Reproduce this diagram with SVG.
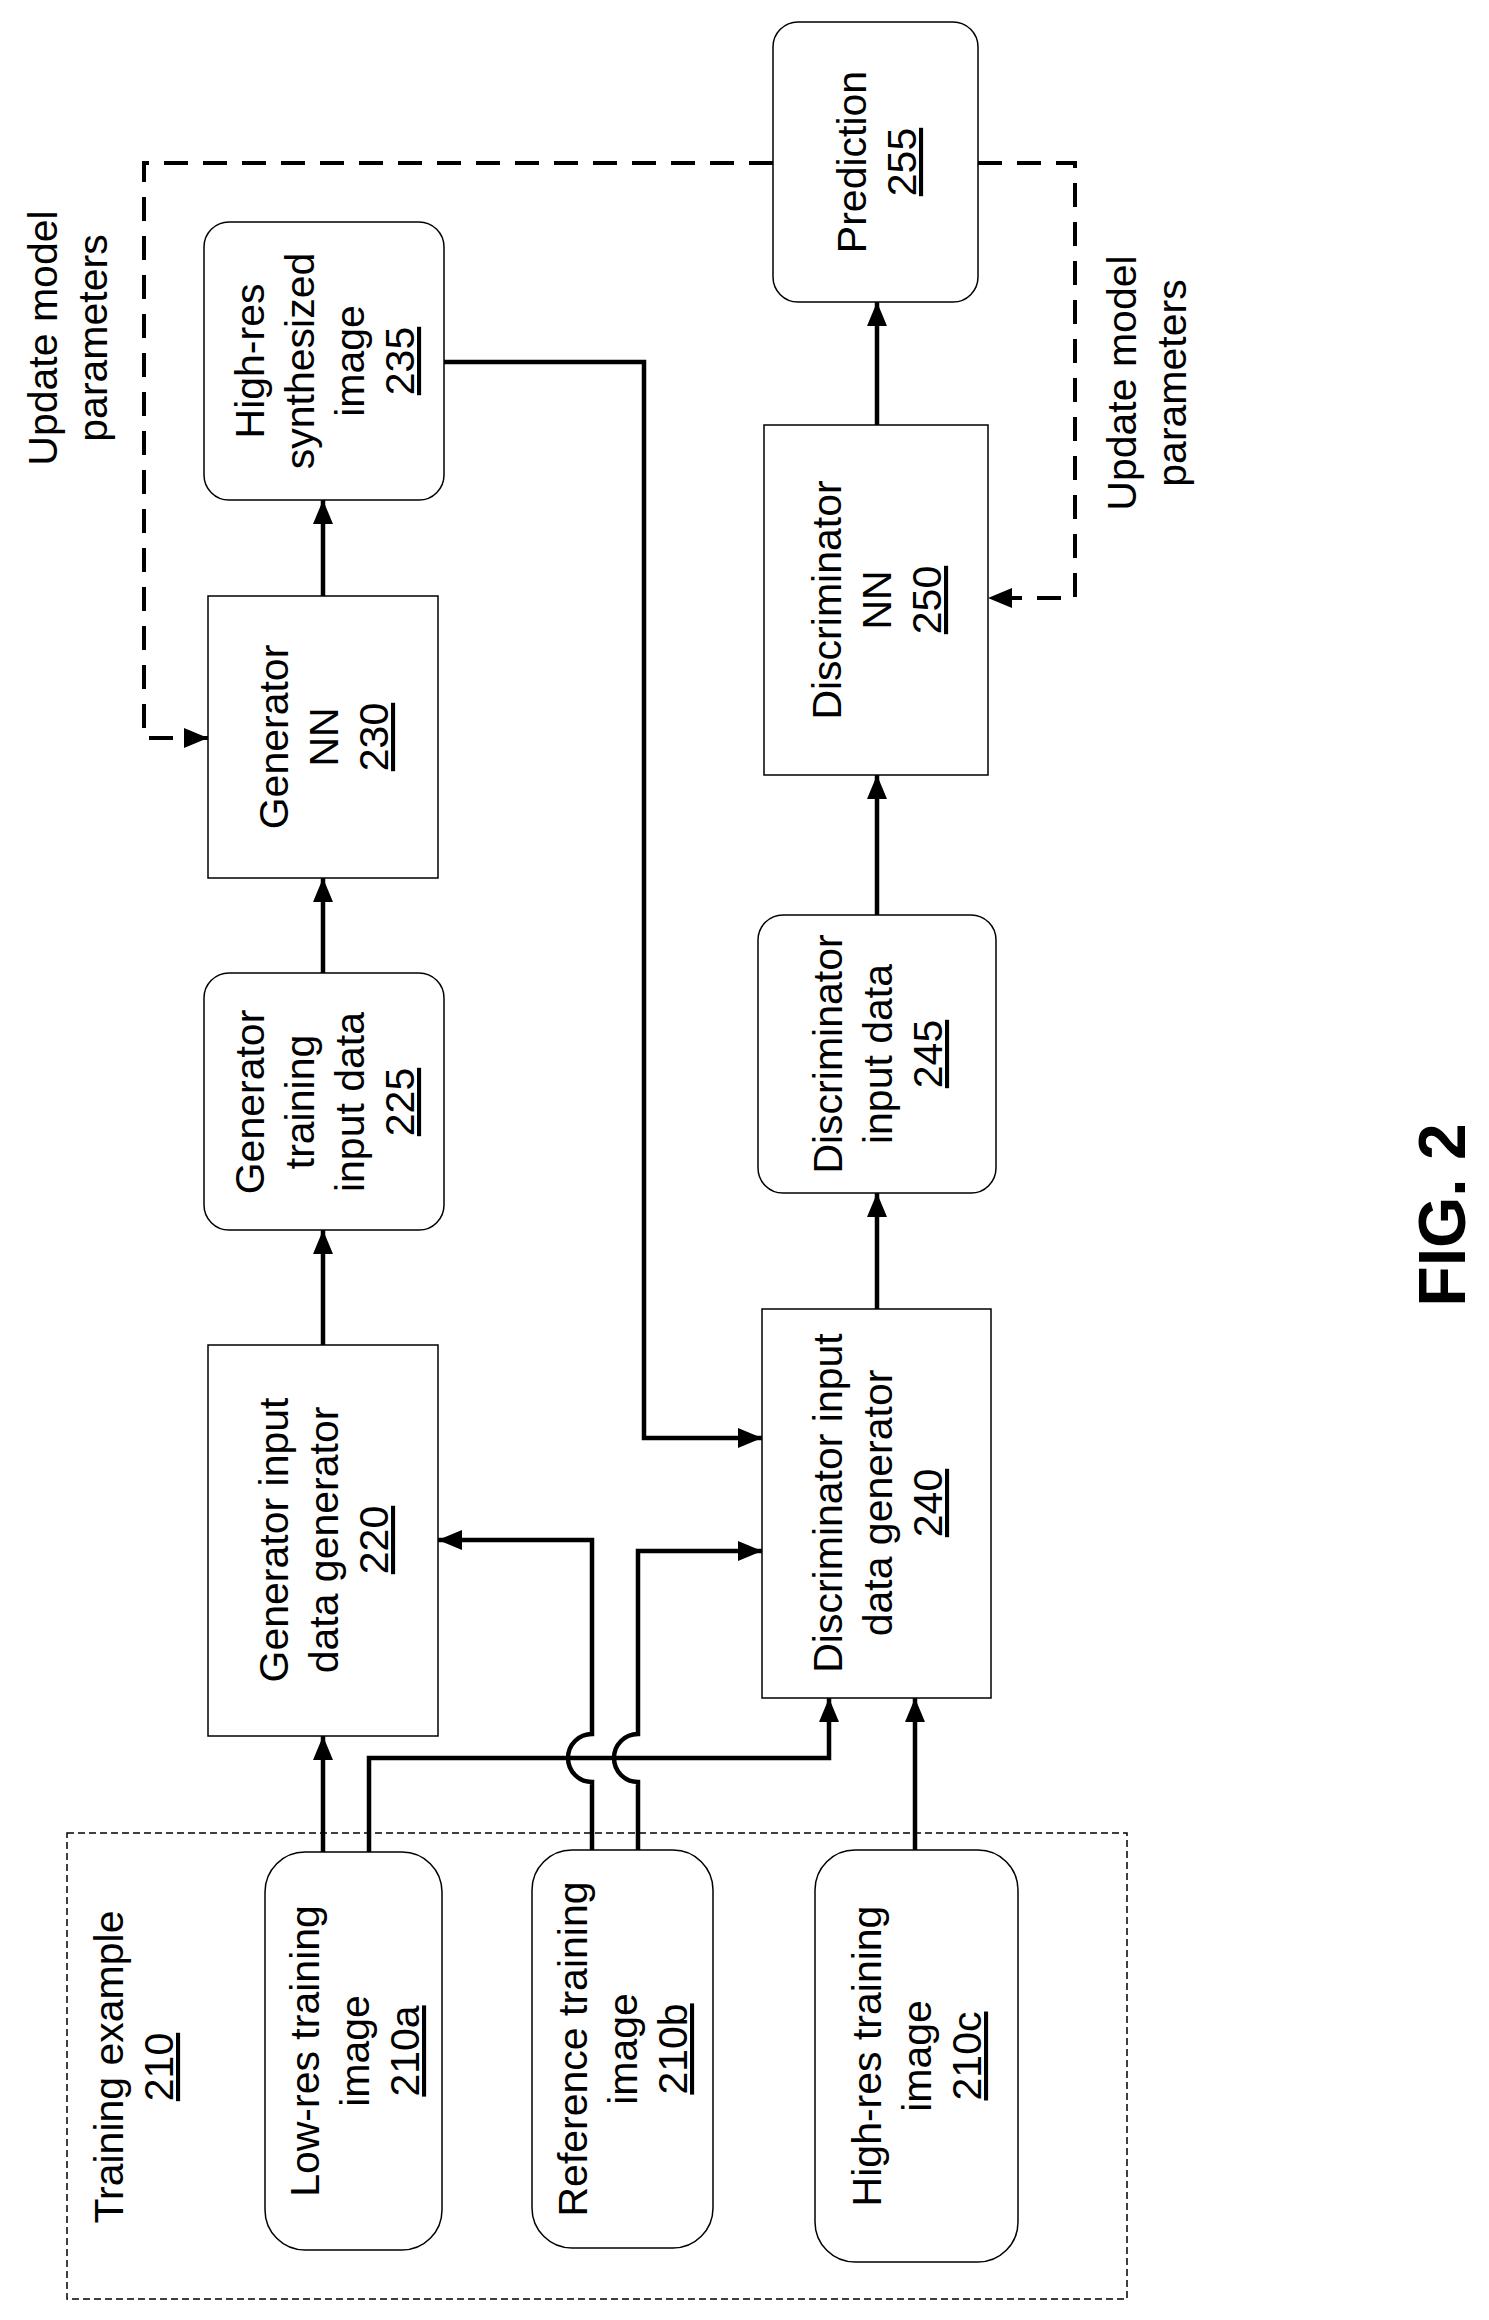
<svg xmlns="http://www.w3.org/2000/svg" width="1489" height="2320" viewBox="0 0 1489 2320">
<style>
text{font-family:"Liberation Sans",Arial,sans-serif;font-size:41px;fill:#000;text-anchor:middle}
.u{text-decoration:underline}
.box{fill:#fff;stroke:#000;stroke-width:1.5}
.c{fill:none;stroke:#000;stroke-width:4.5}
.d{fill:none;stroke:#000;stroke-width:4;stroke-dasharray:24 15}
</style>
<defs>
<marker id="a" markerUnits="userSpaceOnUse" markerWidth="24" markerHeight="20" refX="24" refY="10" orient="auto"><path d="M0,0 L24,10 L0,20 z" fill="#000"/></marker>
</defs>
<rect x="67" y="1833" width="1060" height="466" fill="none" stroke="#000" stroke-width="1.5" stroke-dasharray="7 4"/>
<g id="connectors">
<path class="c" d="M323,1852 V1736" marker-end="url(#a)"/>
<path class="c" d="M369,1852 V1758 H829 V1698" marker-end="url(#a)"/>
<path class="c" d="M592,1850 V1782 A24,24 0 0 1 592,1734 V1540 H438" marker-end="url(#a)"/>
<path class="c" d="M638,1850 V1782 A24,24 0 0 1 638,1734 V1551 H762" marker-end="url(#a)"/>
<path class="c" d="M915,1850 V1698" marker-end="url(#a)"/>
<path class="c" d="M323,1345 V1230" marker-end="url(#a)"/>
<path class="c" d="M323,973 V878" marker-end="url(#a)"/>
<path class="c" d="M323,596 V500" marker-end="url(#a)"/>
<path class="c" d="M444,362 H644 V1438 H762" marker-end="url(#a)"/>
<path class="c" d="M877,1309 V1193" marker-end="url(#a)"/>
<path class="c" d="M877,915 V775" marker-end="url(#a)"/>
<path class="c" d="M877,425 V302" marker-end="url(#a)"/>
<path class="d" d="M773,163 H144 V738 H208" marker-end="url(#a)"/>
<path class="d" d="M978,163 H1075 V598 H988" marker-end="url(#a)"/>
</g>
<g transform="translate(67,338) rotate(-90)"><text y="-10">Update model</text><text y="40">parameters</text></g>
<g transform="translate(1146,383) rotate(-90)"><text y="-10">Update model</text><text y="40">parameters</text></g>
<g transform="translate(133,2067) rotate(-90)"><text y="-10">Training example</text><text y="40" class="u">210</text></g>
<g id="n210a"><rect class="box" x="265" y="1852" width="177" height="398" rx="40"/>
<g transform="translate(354,2051) rotate(-90)"><text y="-35">Low-res training</text><text y="15">image</text><text y="65" class="u">210a</text></g></g>
<g id="n210b"><rect class="box" x="532" y="1850" width="181" height="398" rx="40"/>
<g transform="translate(622,2049) rotate(-90)"><text y="-35">Reference training</text><text y="15">image</text><text y="65" class="u">210b</text></g></g>
<g id="n210c"><rect class="box" x="815" y="1850" width="203" height="412" rx="40"/>
<g transform="translate(916,2056) rotate(-90)"><text y="-35">High-res training</text><text y="15">image</text><text y="65" class="u">210c</text></g></g>
<g id="n220"><rect class="box" x="208" y="1345" width="230" height="391"/>
<g transform="translate(323,1540) rotate(-90)"><text y="-35">Generator input</text><text y="15">data generator</text><text y="65" class="u">220</text></g></g>
<g id="n240"><rect class="box" x="762" y="1309" width="229" height="389"/>
<g transform="translate(877,1503) rotate(-90)"><text y="-35">Discriminator input</text><text y="15">data generator</text><text y="65" class="u">240</text></g></g>
<g id="n225"><rect class="box" x="204" y="973" width="240" height="257" rx="25"/>
<g transform="translate(324,1102) rotate(-90)"><text y="-60">Generator</text><text y="-10">training</text><text y="40">input data</text><text y="90" class="u">225</text></g></g>
<g id="n245"><rect class="box" x="758" y="915" width="238" height="278" rx="25"/>
<g transform="translate(877,1054) rotate(-90)"><text y="-35">Discriminator</text><text y="15">input data</text><text y="65" class="u">245</text></g></g>
<g id="n230"><rect class="box" x="208" y="596" width="230" height="282"/>
<g transform="translate(323,737) rotate(-90)"><text y="-35">Generator</text><text y="15">NN</text><text y="65" class="u">230</text></g></g>
<g id="n250"><rect class="box" x="764" y="425" width="224" height="350"/>
<g transform="translate(876,600) rotate(-90)"><text y="-35">Discriminator</text><text y="15">NN</text><text y="65" class="u">250</text></g></g>
<g id="n235"><rect class="box" x="204" y="222" width="240" height="278" rx="25"/>
<g transform="translate(324,361) rotate(-90)"><text y="-60">High-res</text><text y="-10">synthesized</text><text y="40">image</text><text y="90" class="u">235</text></g></g>
<g id="n255"><rect class="box" x="773" y="22" width="205" height="280" rx="25"/>
<g transform="translate(876,162) rotate(-90)"><text y="-10">Prediction</text><text y="40" class="u">255</text></g></g>
<g transform="translate(1465,1215) rotate(-90)"><text style="font-size:66px;font-weight:bold">FIG. 2</text></g>
</svg>
